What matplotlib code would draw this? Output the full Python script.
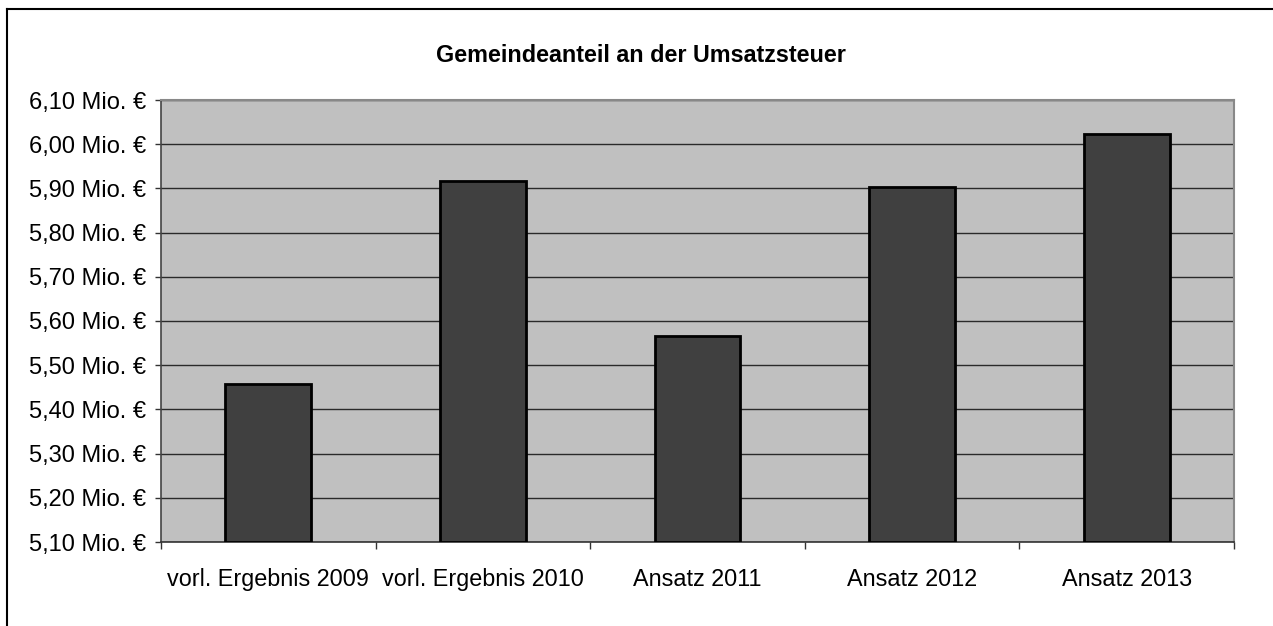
import matplotlib
matplotlib.use("Agg")
import matplotlib.pyplot as plt
from matplotlib.lines import Line2D
import numpy as np

categories = ["vorl. Ergebnis 2009", "vorl. Ergebnis 2010", "Ansatz 2011", "Ansatz 2012", "Ansatz 2013"]
values = [5.458, 5.917, 5.566, 5.903, 6.023]
yticks = [5.10, 5.20, 5.30, 5.40, 5.50, 5.60, 5.70, 5.80, 5.90, 6.00, 6.10]
title = "Gemeindeanteil an der Umsatzsteuer"

plt.rcParams['font.family'] = ['Liberation Sans', 'DejaVu Sans']

W, H = 1273, 626
fig = plt.figure(figsize=(W / 100, H / 100), dpi=100)
ax = fig.add_axes([161 / W, 1 - 542 / H, (1234 - 161) / W, (542 - 100) / H])
ax.set_facecolor("#C0C0C0")

x = np.arange(len(categories))
ax.set_axisbelow(True)
ax.yaxis.grid(True, color="#2a2a2a", linewidth=1.0)
ax.bar(x, [v - yticks[0] for v in values], bottom=yticks[0], width=0.4,
       color="#404040", edgecolor="black", linewidth=2.0, zorder=3)

ax.set_xlim(-0.5, len(categories) - 0.5)
ax.set_ylim(yticks[0], yticks[-1])
ax.set_yticks(yticks)
ax.set_yticklabels([("%.2f" % t).replace(".", ",") + " Mio. €" for t in yticks], fontsize=17)

ax.set_xticks(np.arange(len(categories) + 1) - 0.5)
ax.set_xticklabels([])
ax.set_xticks(x, minor=True)
ax.set_xticklabels(categories, minor=True, fontsize=16.8)
ax.tick_params(axis="x", which="major", length=5, width=1, color="#333333", direction="out")
ax.tick_params(axis="x", which="minor", length=0, pad=19)
ax.tick_params(axis="y", length=4.5, width=1, color="#333333", pad=6)

for s in ["top", "right"]:
    ax.spines[s].set_color("#888888")
    ax.spines[s].set_linewidth(1.5)
ax.spines["left"].set_color("#444444")
ax.spines["left"].set_linewidth(1.2)
ax.spines["bottom"].set_color("#333333")
ax.spines["bottom"].set_linewidth(1.2)

fig.text(641 / W, 1 - 55 / H, title, ha="center", va="center", fontsize=16.8, fontweight="bold")

fig.add_artist(Line2D([6.5 / W, 6.5 / W], [0, 1 - 9 / H], transform=fig.transFigure, color="black", linewidth=1.5))
fig.add_artist(Line2D([6.5 / W, 1], [1 - 9 / H, 1 - 9 / H], transform=fig.transFigure, color="black", linewidth=1.5))

fig.savefig("out.png", dpi=100)
